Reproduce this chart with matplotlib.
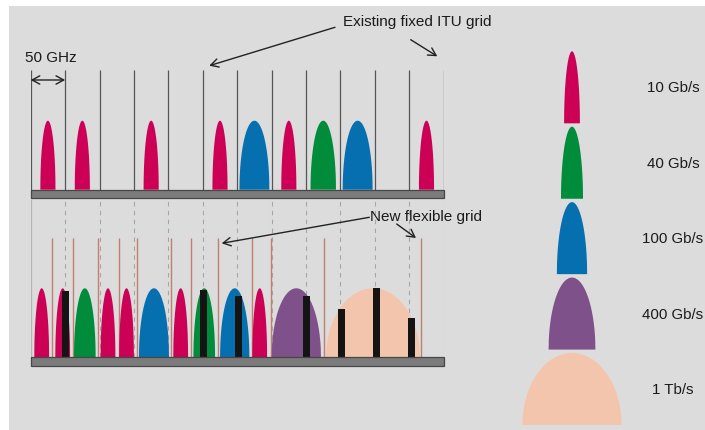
import numpy as np
import matplotlib
matplotlib.use('Agg')
import matplotlib.pyplot as plt
from matplotlib.patches import Rectangle, Polygon

W, H = 705, 431
FONT = ['Liberation Sans', 'DejaVu Sans']
FS = 11

# colours of the line rates
RATE_COLORS = {
    '10G': '#cc0055',
    '40G': '#008c3a',
    '100G': '#056fb0',
    '400G': '#7f518a',
    '1T': '#f4c5ad',
}

# fixed ITU grid, GHz
itu_grid = np.arange(0, 601, 50)

# existing fixed grid: channel centre (GHz), rate, width (GHz)
fixed_centers = [25, 75, 175, 275, 325, 375, 425, 475, 575]
fixed_rates = ['10G', '10G', '10G', '10G', '100G', '10G', '40G', '100G', '10G']
fixed_widths = [22, 22, 22, 22, 43.5, 22, 37, 43.5, 22]

# new flexible grid
flex_centers = [16, 46.5, 78.6, 112.3, 139.2, 179.1, 217.9, 252.1, 296.4, 332.7, 385.9, 497.3]
flex_rates = ['10G', '10G', '40G', '10G', '10G', '100G', '10G', '40G', '100G', '10G', '400G', '1T']
flex_widths = [21.5, 21.5, 31.5, 21.5, 21.5, 43.6, 21.5, 31.5, 42.6, 21.5, 71.6, 136.6]
flex_lines = [31.4, 61.0, 98.2, 127.9, 154.4, 204.3, 232.9, 271.7, 321.1, 348.7, 426.6, 567.0]

# black markers on the flexible grid
marker_pos = [51, 251, 302, 401, 452, 502, 553]
marker_height = [0.965, 0.975, 0.89, 0.89, 0.70, 1.0, 0.57]

# legend
legend_rates = ['10G', '40G', '100G', '400G', '1T']
legend_labels = ['10 Gb/s', '40 Gb/s', '100 Gb/s', '400 Gb/s', '1 Tb/s']
legend_widths = [23, 32, 44, 68, 144]

X0 = 30.7
PX_PER_GHZ = 413 / 600.0
UNIT = 69.0  # px per pulse height


def add_px_axes(fig, x0, y0, x1, y1):
    ax = fig.add_axes([x0 / W, 1 - y1 / H, (x1 - x0) / W, (y1 - y0) / H])
    ax.set_axis_off()
    ax.patch.set_visible(False)
    return ax


def pulse(ax, center, width, color, base=0.0, height=1.0, z=3):
    u = np.linspace(-1, 1, 200)
    y = np.clip(1 - u ** 2, 0, None) ** 0.5
    pts = np.column_stack([center + u * width / 2, base + y * height])
    ax.add_patch(Polygon(pts, closed=True, facecolor=color, edgecolor='none',
                         zorder=z, clip_on=False))


def fp(x, y):
    return (x, H - y)


fig = plt.figure(figsize=(W / 100, H / 100), dpi=100, facecolor='white')
fig.patches.append(Rectangle((9 / W, 0), 1, 1 - 7 / H, transform=fig.transFigure,
                             facecolor='#dcdcdc', edgecolor='none', zorder=-10))

# ---- top panel: fixed grid
base_top = 190.7
ax_top = add_px_axes(fig, X0, base_top - 1.735 * UNIT, X0 + 600 * PX_PER_GHZ, base_top + 0.125 * UNIT)
ax_top.set_xlim(0, 600)
ax_top.set_ylim(-0.125, 1.735)
ax_top.vlines(itu_grid, 0, 1.735, color='#555555', lw=0.9, zorder=1)
for c, r, w in zip(fixed_centers, fixed_rates, fixed_widths):
    pulse(ax_top, c, w, RATE_COLORS[r])
ax_top.add_patch(Rectangle((0, -0.125), 600, 0.125, facecolor='#7b7b7b',
                           edgecolor='#474747', lw=0.9, zorder=4, clip_on=False))

# ---- bottom panel: flexible grid
base_bot = 358.3
ax_bot = add_px_axes(fig, X0, base_bot - 2.294 * UNIT, X0 + 600 * PX_PER_GHZ, base_bot + 0.125 * UNIT)
ax_bot.set_xlim(0, 600)
ax_bot.set_ylim(-0.125, 2.294)
ax_bot.vlines(itu_grid[1:], 0, 2.294, color='#a6a6a6', lw=0.8, linestyles=(0, (4, 4)), zorder=1)
ax_bot.vlines(itu_grid[:1], 0, 2.294, color='#b4b4b4', lw=0.9, zorder=1)
ax_bot.vlines(flex_lines, 0, 1.73, color='#c08070', lw=1.0, zorder=2)
for c, r, w in zip(flex_centers, flex_rates, flex_widths):
    pulse(ax_bot, c, w, RATE_COLORS[r])
ax_bot.bar(marker_pos, marker_height, width=10.2, bottom=0, color='#141414', zorder=5)
ax_bot.add_patch(Rectangle((0, -0.125), 600, 0.125, facecolor='#7b7b7b',
                           edgecolor='#474747', lw=0.9, zorder=6, clip_on=False))

# ---- legend
LEG_C = 572
ax_leg = add_px_axes(fig, 510, 52.3, 705, 426)
ax_leg.set_xlim((510 - LEG_C) / PX_PER_GHZ, (705 - LEG_C) / PX_PER_GHZ)
ax_leg.set_ylim(0, 5.188)
n = len(legend_rates)
for k, (r, lab, w) in enumerate(zip(legend_rates, legend_labels, legend_widths)):
    b = (n - 1 - k) * 1.047
    pulse(ax_leg, 0, w, RATE_COLORS[r], base=b)
    ax_leg.text((673 - LEG_C) / PX_PER_GHZ, b + 0.5, lab, ha='center', va='center',
                fontsize=10.8, family=FONT, color='#1a1a1a', clip_on=False)

# ---- annotations
arrow = dict(arrowstyle='->, head_length=0.55, head_width=0.3', color='#222222',
             lw=1.0, shrinkA=0, shrinkB=0)
ann = dict(xycoords='figure pixels', textcoords='figure pixels', annotation_clip=False)
fig.text(343 / W, 1 - 22 / H, 'Existing fixed ITU grid', ha='left', va='center',
         fontsize=FS, family=FONT, color='#1a1a1a')
ax_top.annotate('', xy=fp(209.3, 66.7), xytext=fp(335, 28.3), arrowprops=arrow, **ann)
ax_top.annotate('', xy=fp(437.3, 57.3), xytext=fp(410.7, 40.7), arrowprops=arrow, **ann)

fig.text(370 / W, 1 - 217 / H, 'New flexible grid', ha='left', va='center',
         fontsize=FS, family=FONT, color='#1a1a1a')
ax_bot.annotate('', xy=fp(221.7, 244.3), xytext=fp(369.3, 218.3), arrowprops=arrow, **ann)
ax_bot.annotate('', xy=fp(416, 239), xytext=fp(396.7, 225), arrowprops=arrow, **ann)

fig.text(25 / W, 1 - 58.3 / H, '50 GHz', ha='left', va='center',
         fontsize=FS, family=FONT, color='#1a1a1a')
ax_top.annotate('', xy=(0, 1.59), xytext=(50, 1.59),
                arrowprops=dict(arrowstyle='<->, head_length=0.55, head_width=0.3',
                                color='#222222', lw=1.0, shrinkA=0, shrinkB=0),
                annotation_clip=False)

fig.savefig('out.png', dpi=100, facecolor='white')
